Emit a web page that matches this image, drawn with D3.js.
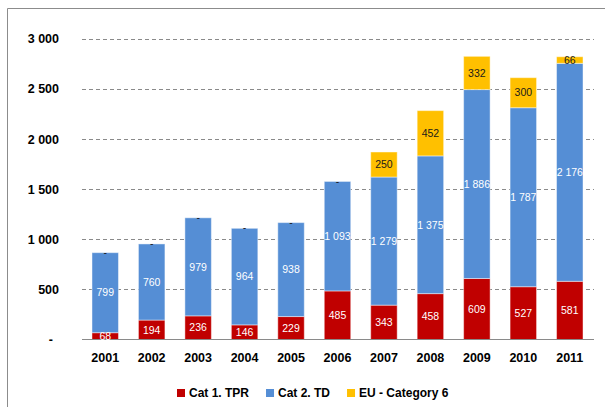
<!DOCTYPE html>
<html>
<head>
<meta charset="utf-8">
<script src="https://cdn.jsdelivr.net/npm/d3@7"></script>
<style>
  body { margin: 0; background: #fff; }
  svg { display: block; font-family: "Liberation Sans", Arial, sans-serif; }
</style>
</head>
<body>
<svg id="chart" width="605" height="407"></svg>
<script>

const years = ["2001", "2002", "2003", "2004", "2005", "2006", "2007", "2008", "2009", "2010", "2011"];
const cat1Tpr = [68, 194, 236, 146, 229, 485, 343, 458, 609, 527, 581];
const cat2Td = [799, 760, 979, 964, 938, 1093, 1279, 1375, 1886, 1787, 2176];
const euCat6 = [0, 0, 0, 0, 0, 0, 250, 452, 332, 300, 66];
const seriesNames = ["Cat 1. TPR", "Cat 2. TD", "EU - Category 6"];
const yTicks = [0, 500, 1000, 1500, 2000, 2500, 3000];

const colors = ["#C00000", "#558ED5", "#FFC000"];
const labelColors = ["#ffffff", "#ffffff", "#1a1a1a"];

const svg = d3.select("#chart");

// outer frame (cropped at right and bottom)
svg.append("path")
  .attr("d", "M7.5,407 L7.5,8.5 L605,8.5")
  .attr("fill", "none")
  .attr("stroke", "#8c8c8c")
  .attr("stroke-width", 1);

const x = d3.scaleBand()
  .domain(years)
  .range([82, 593])
  .paddingInner(0.43)
  .paddingOuter(0.215);

const y = d3.scaleLinear()
  .domain([0, 3000])
  .range([339.5, 39]);

const spaced = d => d3.format(",")(d).replace(/,/g, " ");

// gridlines
svg.append("g")
  .selectAll("line")
  .data(yTicks.filter(d => d > 0))
  .enter()
  .append("line")
  .attr("x1", 82)
  .attr("x2", 594)
  .attr("y1", d => Math.round(y(d)) + 0.5)
  .attr("y2", d => Math.round(y(d)) + 0.5)
  .attr("stroke", "#8a8a8a")
  .attr("stroke-width", 1)
  .attr("stroke-dasharray", "4,3");

// y tick labels
svg.append("g")
  .selectAll("text")
  .data(yTicks)
  .enter()
  .append("text")
  .attr("x", d => d === 0 ? 53 : 59)
  .attr("y", d => y(d))
  .attr("dy", "0.35em")
  .attr("text-anchor", "end")
  .attr("font-size", 12.5)
  .attr("font-weight", "bold")
  .attr("fill", "#000")
  .text(d => d === 0 ? "-" : spaced(d));

// stack
const table = years.map((yr, i) => ({ year: yr, s0: cat1Tpr[i], s1: cat2Td[i], s2: euCat6[i] }));
const stacked = d3.stack().keys(["s0", "s1", "s2"])(table);

const layers = svg.append("g")
  .selectAll("g")
  .data(stacked)
  .enter()
  .append("g")
  .attr("fill", (d, i) => colors[i]);

layers.selectAll("rect")
  .data(d => d)
  .enter()
  .append("rect")
  .attr("x", d => x(d.data.year))
  .attr("width", x.bandwidth())
  .attr("y", d => y(d[1]))
  .attr("height", d => y(d[0]) - y(d[1]))
  .attr("stroke", "rgba(255,255,255,0.45)")
  .attr("stroke-width", 1);

// baseline
svg.append("line")
  .attr("x1", 82)
  .attr("x2", 594)
  .attr("y1", 339.5)
  .attr("y2", 339.5)
  .attr("stroke", "#8a8a8a")
  .attr("stroke-width", 1);

// value labels
stacked.forEach((layer, i) => {
  svg.append("g")
    .selectAll("text")
    .data(layer)
    .enter()
    .append("text")
    .attr("x", d => x(d.data.year) + x.bandwidth() / 2)
    .attr("y", d => y((d[0] + d[1]) / 2))
    .attr("dy", d => (d[1] - d[0]) === 0 ? "0.3em" : "0.36em")
    .attr("text-anchor", "middle")
    .attr("font-size", 10.5)
    .attr("fill", labelColors[i])
    .text(d => {
      const v = d[1] - d[0];
      return v === 0 ? "-" : spaced(v);
    });
});

// x labels
svg.append("g")
  .selectAll("text")
  .data(years)
  .enter()
  .append("text")
  .attr("x", d => x(d) + x.bandwidth() / 2)
  .attr("y", 362)
  .attr("text-anchor", "middle")
  .attr("font-size", 12.5)
  .attr("font-weight", "bold")
  .attr("fill", "#000")
  .text(d => d);

// legend
const legend = svg.append("g");
var lx = 177;
seriesNames.forEach((name, i) => {
  legend.append("rect")
    .attr("x", lx)
    .attr("y", 389)
    .attr("width", 8)
    .attr("height", 8)
    .attr("fill", colors[i]);
  const t = legend.append("text")
    .attr("x", lx + 12)
    .attr("y", 397)
    .attr("font-size", 12)
    .attr("font-weight", "bold")
    .attr("fill", "#000")
    .text(name);
  lx += 12 + t.node().getComputedTextLength() + 17;
});

</script>
</body>
</html>
